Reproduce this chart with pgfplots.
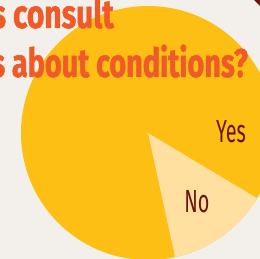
\documentclass[border=0pt]{standalone}
\usepackage{fontspec}
\usepackage{pgfplots}
\usepackage{pgfplotstable}
\pgfplotsset{compat=1.18}
\newfontfamily\titlefontA[FakeStretch=0.75,BoldFeatures={FakeBold=1.2}]{Fira Sans}
\newfontfamily\titlefontB[FakeStretch=0.72,BoldFeatures={FakeBold=1.2}]{Fira Sans}
\newfontfamily\labfont[FakeStretch=0.62]{Fira Sans}
\definecolor{bg}{HTML}{F3F0EC}
\definecolor{yes}{HTML}{FDBF14}
\definecolor{no}{HTML}{FFE0A0}
\definecolor{ttl}{HTML}{F05A28}
\definecolor{lab}{HTML}{6B1411}
\pgfplotstableread{
label value
Yes 87
No 13
}\piedata
\begin{document}
\begin{tikzpicture}[x=1pt,y=1pt]
\useasboundingbox (0,0) rectangle (260,259);
\clip (0,0) rectangle (260,259);
\fill[bg] (0,0) rectangle (260,259);
\pgfplotstablegetelem{0}{value}\of\piedata \let\yesv\pgfplotsretval
\pgfplotstablegetelem{1}{value}\of\piedata \let\nov\pgfplotsretval
\pgfmathsetmacro{\sa}{-77.7}
\pgfmathsetmacro{\sb}{\sa+3.6*\nov}
\begin{axis}[at={(0,0)},anchor=south west,width=260pt,height=259pt,
  scale only axis,xmin=0,xmax=260,ymin=0,ymax=259,hide axis,clip=true]
\fill[yes] (axis cs:148,126) circle[radius=127];
\fill[no] (axis cs:148,126) -- ++(\sa:127pt) arc[start angle=\sa, end angle=\sb, radius=127pt] -- cycle;
\node[text=lab,font=\labfont\fontsize{32}{32}\selectfont] at (axis cs:231,127) {Yes};
\node[text=lab,font=\labfont\fontsize{32}{32}\selectfont] at (axis cs:197,57) {No};
\end{axis}
\fill[lab] (254,259) -- (260,259) -- (260,253) -- cycle;
\node[anchor=base east,text=ttl,inner sep=0,font=\titlefontA\bfseries\fontsize{40}{40}\selectfont] at (114,231) {s consult};
\node[anchor=base east,text=ttl,inner sep=0,font=\titlefontB\bfseries\fontsize{40}{40}\selectfont] at (248,182) {s about conditions?};
\end{tikzpicture}
\end{document}
